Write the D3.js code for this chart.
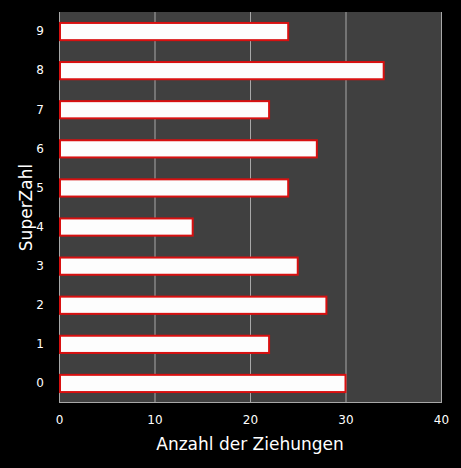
<!DOCTYPE html>
<html>
<head>
<meta charset="utf-8">
<script src="https://cdn.jsdelivr.net/npm/d3@7"></script>
<style>
  body { margin: 0; background: #000; }
  text { font-family: "DejaVu Sans", Verdana, sans-serif; fill: #fff; }
</style>
</head>
<body>
<svg width="461" height="468"></svg>
<script>
// SuperZahl draws
var superZahl = ["0", "1", "2", "3", "4", "5", "6", "7", "8", "9"];
var anzahl = [30, 22, 28, 25, 14, 24, 27, 22, 34, 24];
var xTicks = [0, 10, 20, 30, 40];

var svg = d3.select("svg"),
    margin = {top: 12, right: 20, bottom: 65, left: 59},
    width = +svg.attr("width") - margin.left - margin.right,
    height = +svg.attr("height") - margin.top - margin.bottom;

svg.append("rect").attr("width", 461).attr("height", 468).attr("fill", "#000");
var g = svg.append("g").attr("transform", "translate(" + margin.left + "," + margin.top + ")");

var data = superZahl.map(function(d, i) { return {zahl: d, n: anzahl[i]}; });

var x = d3.scaleLinear().domain([0, 40]).range([0, width]);
var y = d3.scaleBand()
    .domain(superZahl.slice().reverse())
    .range([0, height])
    .paddingInner(0.56)
    .paddingOuter(0.28);

// plot background
g.append("rect")
    .attr("width", width)
    .attr("height", height)
    .attr("fill", "#404040");

// vertical gridlines
g.selectAll(".grid")
  .data(xTicks)
  .enter().append("line")
    .attr("x1", function(d) { return x(d) + 0.5; })
    .attr("x2", function(d) { return x(d) + 0.5; })
    .attr("y1", 0)
    .attr("y2", height)
    .attr("stroke", "#a8a8a8")
    .attr("stroke-width", 1);

// bottom frame line
g.append("line")
    .attr("x1", 0).attr("x2", width)
    .attr("y1", height - 0.5).attr("y2", height - 0.5)
    .attr("stroke", "#a8a8a8");

// bars
g.selectAll(".bar")
  .data(data)
  .enter().append("rect")
    .attr("x", x(0) + 1)
    .attr("y", function(d) { return y(d.zahl); })
    .attr("width", function(d) { return x(d.n) - x(0) - 1; })
    .attr("height", y.bandwidth())
    .attr("fill", "#fdfdfd")
    .attr("stroke", "#d81010")
    .attr("stroke-width", 2);

// x axis
var xAxis = g.append("g")
    .attr("transform", "translate(0," + height + ")")
    .call(d3.axisBottom(x).tickValues(xTicks).tickSize(0).tickPadding(12));
xAxis.select(".domain").remove();
xAxis.selectAll("text").attr("font-size", 12).attr("fill", "#fff");

// y axis
var yAxis = g.append("g")
    .call(d3.axisLeft(y).tickSize(0).tickPadding(15));
yAxis.select(".domain").remove();
yAxis.selectAll("text").attr("font-size", 12).attr("fill", "#fff");

// axis titles
g.append("text")
    .attr("x", width / 2)
    .attr("y", height + 47)
    .attr("text-anchor", "middle")
    .attr("font-size", 17)
    .text("Anzahl der Ziehungen");

g.append("text")
    .attr("transform", "rotate(-90)")
    .attr("x", -height / 2)
    .attr("y", -27)
    .attr("text-anchor", "middle")
    .attr("font-size", 17)
    .text("SuperZahl");
</script>
</body>
</html>
